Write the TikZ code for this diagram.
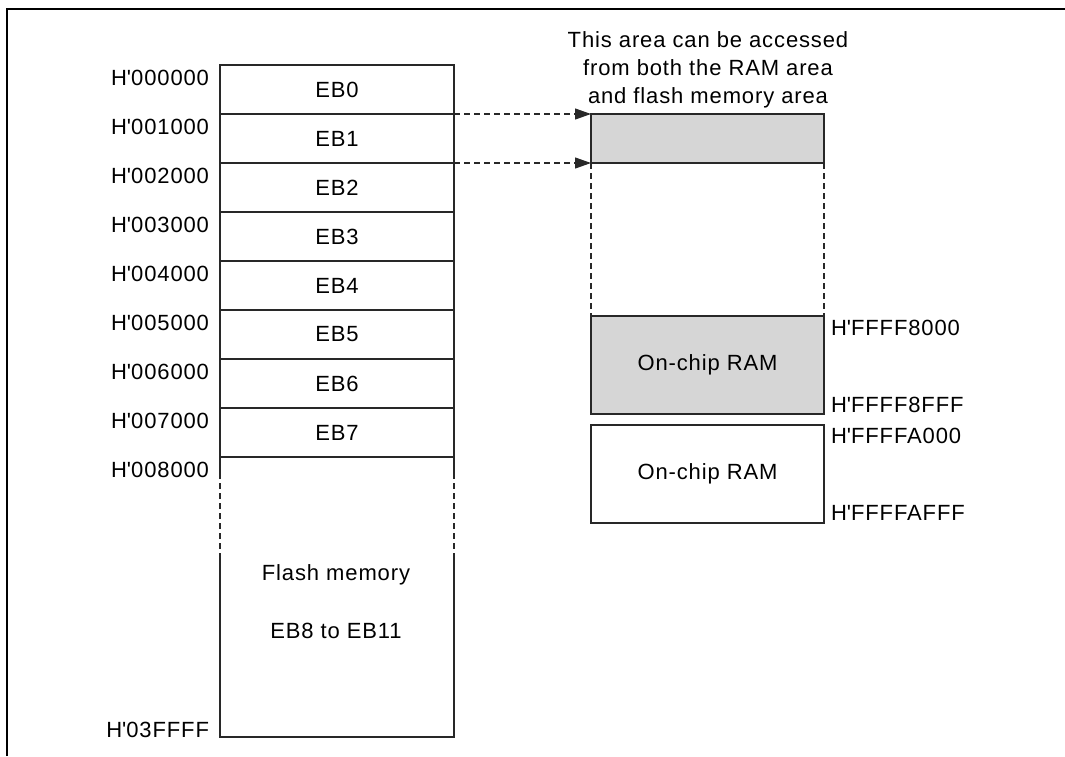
\documentclass[tikz,border=0pt]{standalone}
\usepackage{fontspec}
\setmainfont{Liberation Sans}[LetterSpace=4]
\usetikzlibrary{arrows.meta}
\definecolor{boxgray}{RGB}{214,214,214}
\definecolor{linec}{RGB}{40,40,40}
\newcommand\apo{\textquotesingle}
\begin{document}
\begin{tikzpicture}[x=1pt,y=-1pt,
  every node/.style={font=\fontsize{22}{29}\selectfont, outer sep=0pt},
  memblk/.style={draw=linec, line width=1.2pt, minimum width=234pt, minimum height=49pt, anchor=north west, inner sep=0pt},
  ramblk/.style={draw=linec, line width=1.2pt, minimum width=233pt, anchor=north west, inner sep=0pt},
  addrl/.style={anchor=base east, inner sep=0pt},
  addrr/.style={anchor=base west, inner sep=0pt},
  dasharrow/.style={draw=linec, line width=1.2pt, dash pattern=on 6pt off 4pt, -{Triangle[length=16pt,width=11pt]}},
  dashside/.style={draw=linec, line width=1.2pt, dash pattern=on 6pt off 4pt},
  solidside/.style={draw=linec, line width=1.2pt}
]
\useasboundingbox (0,0) rectangle (1065,756);
\draw[line width=2.5pt] (7,756) -- (7,9) -- (1065,9);

% left memory column
\foreach \i in {0,...,7}{
  \node[memblk] (EB\i) at (220,{65+49*\i}) {\raisebox{-1pt}{EB\i}};
}
\foreach \i/\t in {0/000000,1/001000,2/002000,3/003000,4/004000,5/005000,6/006000,7/007000,8/008000}{
  \node[addrl] (a\i) at (209,{85+49*\i}) {H\apo\t};
}
\node[addrl] (a9) at (209,737) {H\apo03FFFF};

% flash region
\coordinate (fl1) at (220,473);
\coordinate (fl2) at (220,558);
\coordinate (fr1) at (454,473);
\coordinate (fr2) at (454,558);
\coordinate (fbl) at (220,737);
\coordinate (fbr) at (454,737);
\path[solidside] (EB7.south west) -- (fl1);
\path[solidside] (EB7.south east) -- (fr1);
\path[dashside] (fl1) -- (fl2);
\path[dashside] (fr1) -- (fr2);
\path[solidside] (fl2) -- (fbl) -- (fbr) -- (fr2);
\node[anchor=base, inner sep=0pt] (fm) at (336,580) {Flash memory};
\node[anchor=base, inner sep=0pt] (fe) at (336,638) {EB8 to EB11};

% right side
\node[anchor=base, inner sep=0pt] (t1) at (708,47) {This area can be accessed};
\node[anchor=base, inner sep=0pt] (t2) at (708,75) {from both the RAM area};
\node[anchor=base, inner sep=0pt] (t3) at (708,103) {and flash memory area};

\node[ramblk, fill=boxgray, minimum height=49pt] (acc) at (591,114) {};
\node[ramblk, fill=boxgray, minimum height=98pt] (ram1) at (591,316) {\raisebox{-1pt}{On-chip RAM}};
\node[ramblk, minimum height=98pt] (ram2) at (591,425) {\raisebox{-1pt}{On-chip RAM}};

\path[dasharrow] (EB0.south east) -- (acc.north west);
\path[dasharrow] (EB1.south east) -- (acc.south west);
\path[dashside] (acc.south west) -- (ram1.north west);
\path[dashside] (acc.south east) -- (ram1.north east);

\node[addrr] (r1) at (831,335) {H\apo FFFF8000};
\node[addrr] (r2) at (831,412) {H\apo FFFF8FFF};
\node[addrr] (r3) at (831,443) {H\apo FFFFA000};
\node[addrr] (r4) at (831,520) {H\apo FFFFAFFF};
\end{tikzpicture}
\end{document}
